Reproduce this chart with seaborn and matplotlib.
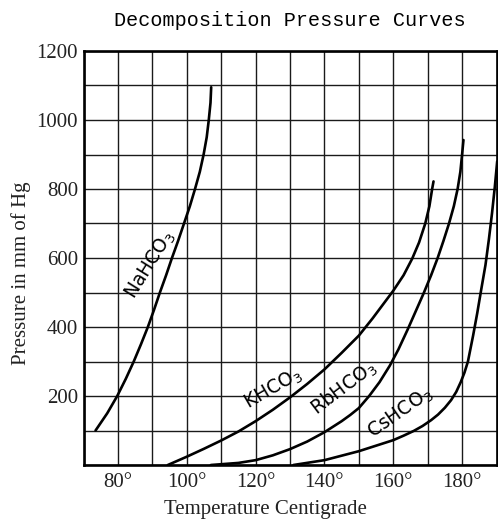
import matplotlib
matplotlib.use("Agg")
import matplotlib.pyplot as plt
import seaborn as sns
import pandas as pd
from matplotlib.ticker import MultipleLocator, FixedLocator

# ---- data (temperature °C, pressure mm Hg) ----
na_T = [73.5, 76.9, 79.8, 82.3, 84.6, 86.7, 88.7, 90.5, 92.2, 94.0, 95.7, 97.5,
        99.2, 100.9, 102.4, 103.8, 104.9, 105.8, 106.4, 106.9, 107.1]
na_P = [100, 150, 200, 250, 300, 350, 400, 450, 500, 550, 600, 650,
        700, 750, 800, 850, 900, 950, 1000, 1050, 1095]

k_T = [94.5, 100, 105, 110, 115, 120, 125, 130, 135, 140, 145, 150, 154, 157,
       160, 163, 165.5, 167.5, 169.3, 170.5, 171.3, 171.7]
k_P = [0, 24, 47, 71, 97, 127, 160, 196, 235, 277, 325, 375, 425, 465,
       505, 550, 598, 645, 700, 750, 800, 822]

rb_T = [107, 115, 120, 125, 130, 135, 140, 145, 147.5, 150, 153, 156, 159, 161.5,
        164.2, 166.5, 168.8, 171, 172.9, 174.6, 176.2, 177.6, 178.7, 179.5, 180.0, 180.4]
rb_P = [0, 6, 14, 28, 46, 68, 95, 127, 145, 165, 200, 240, 288, 335,
        393, 445, 497, 550, 600, 650, 700, 750, 800, 850, 900, 942]

cs_T = [131, 140, 150, 160, 163, 166, 168.5, 171, 173, 175, 176.8, 178.3, 179.6,
        180.7, 181.7, 183.2, 184.4, 185.5, 186.8, 187.8, 188.7, 189.5, 190.2]
cs_P = [0, 14, 40, 72, 85, 99, 113, 130, 146, 166, 188, 212, 240,
        268, 300, 375, 440, 505, 580, 655, 730, 805, 880]

labels = ["NaHCO$_3$", "KHCO$_3$", "RbHCO$_3$", "CsHCO$_3$"]
label_T = [89.3, 125.0, 145.5, 162.0]
label_P = [580, 222, 222, 150]
label_rot = [58, 30, 37, 35]

x_ticks = [80, 100, 120, 140, 160, 180]
x_ticklabels = ["80°", "100°", "120°", "140°", "160°", "180°"]
y_ticks = [200, 400, 600, 800, 1000, 1200]

frames = []
for name, T, P in [("NaHCO3", na_T, na_P), ("KHCO3", k_T, k_P),
                   ("RbHCO3", rb_T, rb_P), ("CsHCO3", cs_T, cs_P)]:
    frames.append(pd.DataFrame({"T": T, "P": P, "salt": name}))
df = pd.concat(frames, ignore_index=True)

sns.set_theme(style="white")
plt.rcParams["font.family"] = ["Liberation Serif", "DejaVu Serif"]

W, H = 498, 523
fig = plt.figure(figsize=(W / 100, H / 100), dpi=100)
ax = fig.add_axes([83.5 / W, 1 - 465 / H, 413 / W, 414 / H])

sns.lineplot(data=df, x="T", y="P", units="salt", estimator=None, sort=False,
             color="black", linewidth=1.9, ax=ax, legend=False)
for ln in ax.lines:
    ln.set_solid_joinstyle("round")
    ln.set_solid_capstyle("round")

ax.set_xlim(70, 190)
ax.set_ylim(0, 1200)
ax.xaxis.set_major_locator(FixedLocator(x_ticks))
ax.set_xticklabels(x_ticklabels)
ax.xaxis.set_minor_locator(MultipleLocator(10))
ax.yaxis.set_major_locator(FixedLocator(y_ticks))
ax.yaxis.set_minor_locator(MultipleLocator(100))
ax.grid(True, which="both", color="#1a1a1a", linewidth=1.0)
ax.set_axisbelow(True)
ax.tick_params(axis="both", which="both", length=0, labelsize=15, colors="#222222")
ax.tick_params(axis="x", pad=6)
ax.tick_params(axis="y", pad=4)
for s in ax.spines.values():
    s.set_visible(True)
    s.set_color("black")
    s.set_linewidth(1.9)

ax.set_xlabel("Temperature Centigrade", fontsize=15, color="#222222")
ax.set_ylabel("Pressure in mm of Hg", fontsize=15, color="#222222")
ax.xaxis.set_label_coords((265 - 83.5) / 413, -0.085)
ax.yaxis.set_label_coords((31 - 83.5) / 413, 0.464)

for lab, t, p, r in zip(labels, label_T, label_P, label_rot):
    ax.text(t, p, lab, rotation=r, ha="center", va="center", fontsize=13.5,
            family=["DejaVu Sans"], color="black", rotation_mode="anchor")

fig.text(290 / W, 1 - 20 / H, "Decomposition Pressure Curves", ha="center", va="center",
         fontsize=14.5, family=["Liberation Mono", "DejaVu Sans Mono"], color="black")

fig.savefig("out.png", dpi=100)
